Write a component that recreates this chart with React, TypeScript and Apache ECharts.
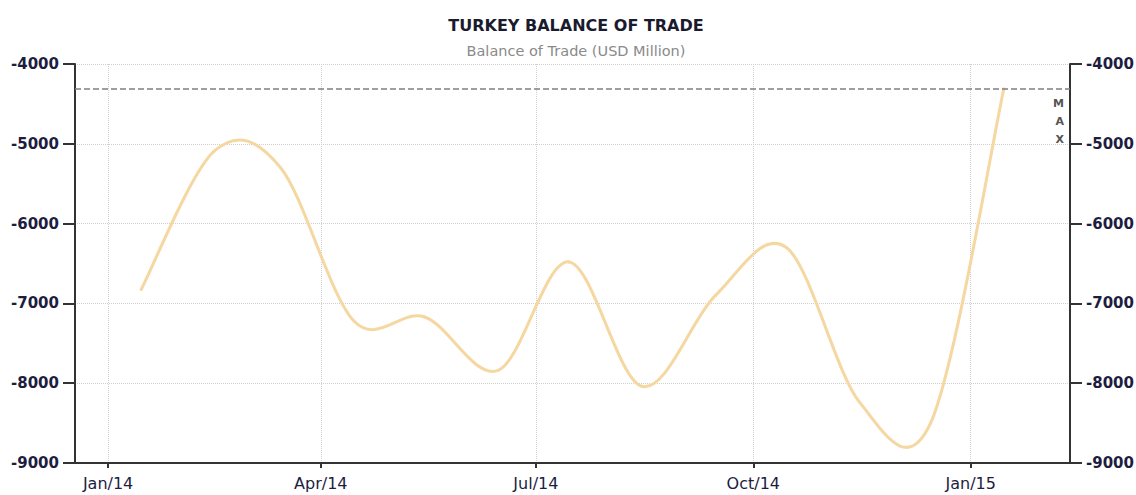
import React, { useEffect, useRef } from 'react';
import * as echarts from 'echarts';

// Monthly balance of trade (USD million), plotted mid-month
const months: string[] = [
  '2014-01-15', '2014-02-15', '2014-03-15', '2014-04-15', '2014-05-15', '2014-06-15',
  '2014-07-15', '2014-08-15', '2014-09-15', '2014-10-15', '2014-11-15', '2014-12-15',
  '2015-01-15',
];
const balance: number[] = [
  -6825, -5090, -5300, -7220, -7170, -7840,
  -6480, -8040, -6900, -6300, -8240, -8500,
  -4312,
];
const tickDates: string[] = ['2014-01-01', '2014-04-01', '2014-07-01', '2014-10-01', '2015-01-01'];
const tickLabels: string[] = ['Jan/14', 'Apr/14', 'Jul/14', 'Oct/14', 'Jan/15'];
const xMin = '2013-12-18';
const xMax = '2015-02-12';
const yMin = -9000;
const yMax = -4000;
const yStep = 1000;

const DAY = 86400000;
const toTime = (s: string) => {
  const [y, m, d] = s.split('-').map(Number);
  return Date.UTC(y, m - 1, d);
};

const FONT = "'DejaVu Sans', sans-serif";
const LINE_COLOR = '#f5d7a1';

export default function App() {
  const ref = useRef<HTMLDivElement>(null);
  useEffect(() => {
    if (!ref.current) return;
    const chart = echarts.init(ref.current, null, { renderer: 'svg' });
    const tickTimes = tickDates.map(toTime);
    const times = months.map(toTime);
    const n = times.length;
    const xFormatter = (v: number) => {
      const i = tickTimes.findIndex((t) => Math.abs(t - v) < DAY);
      return i >= 0 ? tickLabels[i] : '';
    };
    const yAxisCommon = {
      type: 'value',
      min: yMin,
      max: yMax,
      interval: yStep,
      axisLine: { show: true, lineStyle: { color: '#333', width: 2 } },
      axisTick: { show: true, length: 12, lineStyle: { color: '#333', width: 2 } },
      axisLabel: {
        color: '#1d1d3f',
        fontFamily: FONT,
        fontWeight: 'bold',
        fontSize: 15,
        margin: 16,
        formatter: (v: number) => String(v),
      },
    };
    // Smooth (Catmull-Rom) segment between point i and i+1, positioned via the axes
    const renderItem = (params: any, api: any) => {
      const i = params.dataIndex;
      if (i >= n - 1) return { type: 'group', children: [] };
      const c = (j: number) => {
        const k = Math.max(0, Math.min(n - 1, j));
        return api.coord([times[k], balance[k]]);
      };
      const p0 = c(i - 1), p1 = c(i), p2 = c(i + 1), p3 = c(i + 2);
      return {
        type: 'bezierCurve',
        shape: {
          x1: p1[0], y1: p1[1],
          x2: p2[0], y2: p2[1],
          cpx1: p1[0] + (p2[0] - p0[0]) / 6,
          cpy1: p1[1] + (p2[1] - p0[1]) / 6,
          cpx2: p2[0] - (p3[0] - p1[0]) / 6,
          cpy2: p2[1] - (p3[1] - p1[1]) / 6,
        },
        style: { stroke: LINE_COLOR, lineWidth: 3, fill: null, lineCap: 'round' },
      };
    };
    chart.setOption({
      animation: false,
      backgroundColor: '#fff',
      title: {
        text: 'TURKEY BALANCE OF TRADE',
        subtext: 'Balance of Trade (USD Million)',
        left: 571,
        textAlign: 'center',
        top: 12,
        itemGap: 10,
        textStyle: { fontFamily: FONT, fontSize: 16, fontWeight: 'bold', color: '#1a1a2e' },
        subtextStyle: { fontFamily: FONT, fontSize: 14.5, color: '#8a8a8a' },
      },
      grid: { left: 75, right: 66, top: 64, bottom: 32, containLabel: false, outerBoundsMode: 'none' },
      xAxis: {
        type: 'value',
        min: toTime(xMin),
        max: toTime(xMax),
        axisLine: { show: true, onZero: false, lineStyle: { color: '#333', width: 2 } },
        axisTick: { show: true, length: 5, customValues: tickTimes, lineStyle: { color: '#333', width: 2 } },
        axisLabel: {
          customValues: tickTimes,
          formatter: xFormatter,
          color: '#1d1d3f',
          fontFamily: FONT,
          fontSize: 16,
          margin: 12,
        },
        splitLine: { show: true, lineStyle: { color: '#d0d0d0', type: 'dotted', width: 1 } },
      },
      yAxis: [
        {
          ...yAxisCommon,
          position: 'left',
          splitLine: { show: true, lineStyle: { color: '#d0d0d0', type: 'dotted', width: 1 } },
        },
        {
          ...yAxisCommon,
          position: 'right',
          splitLine: { show: false },
        },
      ],
      series: [
        {
          type: 'custom',
          name: 'Balance of Trade',
          data: times.map((t, i) => [t, balance[i]]),
          encode: { x: 0, y: 1 },
          renderItem,
          markLine: {
            silent: true,
            symbol: ['none', 'none'],
            lineStyle: { color: '#808080', type: 'dashed', width: 1.5 },
            label: {
              show: true,
              position: 'insideEndBottom',
              formatter: 'M\nA\nX',
              color: '#555',
              fontFamily: FONT,
              fontSize: 11,
              fontWeight: 'bold',
              lineHeight: 18,
              distance: 6,
            },
            data: [{ yAxis: Math.max(...balance) }],
          },
        },
      ],
    });
    return () => chart.dispose();
  }, []);
  return (
    <div
      ref={ref}
      style={{ position: 'fixed', left: 0, top: 0, width: 1136, height: 495 }}
    />
  );
}
